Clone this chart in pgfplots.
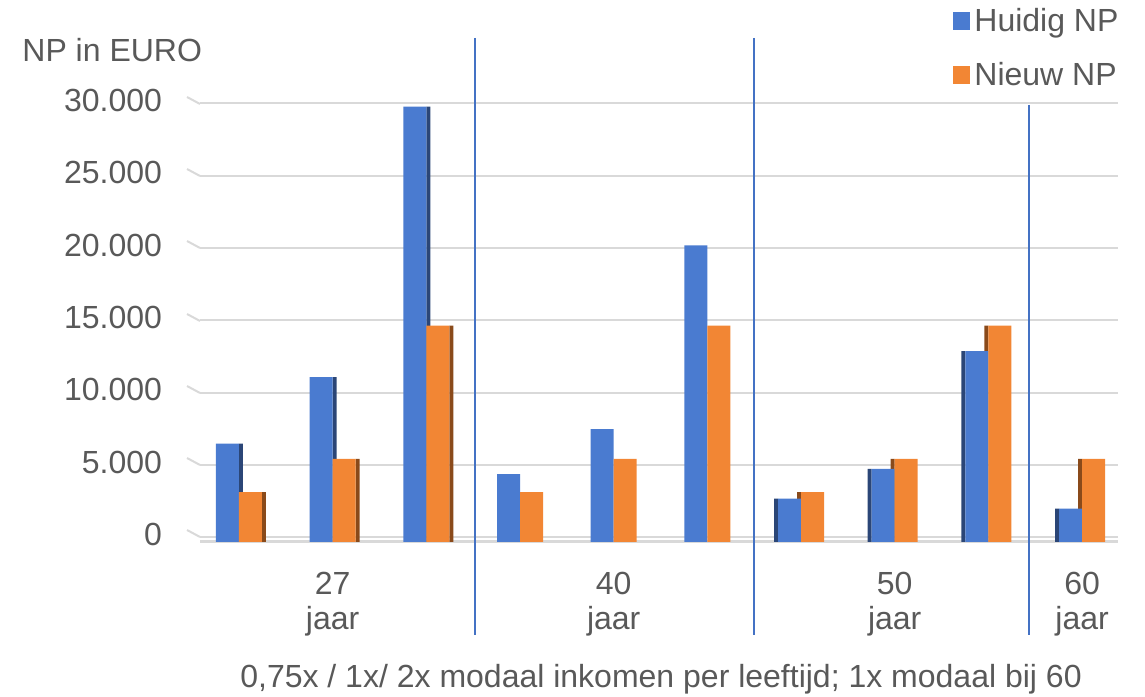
\documentclass[border=0pt]{standalone}
\usepackage{fontspec}
\setmainfont{Liberation Sans}
\usepackage{pgfplots}
\usepackage{pgfplotstable}
\pgfplotsset{compat=1.18}

\definecolor{hblue}{HTML}{4A7BD0}
\definecolor{hbluedk}{HTML}{2B4677}
\definecolor{norange}{HTML}{F28634}
\definecolor{norangedk}{HTML}{8A4A1A}
\definecolor{txt}{HTML}{595959}
\definecolor{gridc}{HTML}{D9D9D9}
\definecolor{sepc}{HTML}{4472C4}

% NP per geval: 0,75x / 1x / 2x modaal bij 27, 40, 50 jaar; 1x modaal bij 60
\pgfplotstableread{
idx huidig nieuw
0 6800 3450
1 11400 5750
2 30100 14950
3 4700 3450
4 7800 5750
5 20500 14950
6 3000 3450
7 5050 5750
8 13200 14950
9 2300 5750
}\npdata

\newcommand\chartfont{\fontsize{16bp}{17.5bp}\selectfont}

\begin{document}
\begin{tikzpicture}[x=0.5bp,y=0.5bp,font=\chartfont]
\useasboundingbox (0,0) rectangle (1145,696);
\begin{axis}[
  at={(100bp,77bp)}, anchor=south west,
  scale only axis, width=459bp, height=217bp,
  xmin=-0.416, xmax=9.384, ymin=0, ymax=30000,
  clip=false,
  ybar,
  axis x line*=bottom, axis y line*=left,
  y axis line style={draw=none},
  x axis line style={gridc, line width=1.5bp},
  major tick length=0pt,
  ymajorgrids,
  grid style={gridc, line width=1bp, yshift=2.3bp},
  ytick={0,5000,...,30000},
  scaled y ticks=false,
  /pgf/number format/assume math mode=true,
  yticklabel style={text=txt, font=\chartfont,
    /pgf/number format/1000 sep={.}, xshift=-15.5bp, yshift=3.8bp},
  xtick={1,4,7,9},
  xticklabels={{27\\jaar},{40\\jaar},{50\\jaar},{60\\jaar}},
  xticklabel style={align=center, text=txt, font=\chartfont, yshift=-11.5bp},
  legend style={at={(0.8135,1.25)}, anchor=north west, draw=none, fill=none,
    font=\chartfont, text=txt, row sep=10bp},
  legend cell align=left,
  legend image code/.code={\fill[#1] (0bp,-4.3bp) rectangle (8.6bp,4.3bp);},
]
% zijvlakken (3D-effect)
\addplot[fill=hbluedk, draw=none, bar width=0.0427, bar shift=0.0214,
  restrict x to domain=0:2, forget plot] table[x=idx,y=huidig]{\npdata};
\addplot[fill=norangedk, draw=none, bar width=0.0427, bar shift=0.2669,
  restrict x to domain=0:2, forget plot] table[x=idx,y=nieuw]{\npdata};
\addplot[fill=hbluedk, draw=none, bar width=0.0427, bar shift=-0.2669,
  restrict x to domain=6:9, forget plot] table[x=idx,y=huidig]{\npdata};
\addplot[fill=norangedk, draw=none, bar width=0.0427, bar shift=-0.0214,
  restrict x to domain=6:9, forget plot] table[x=idx,y=nieuw]{\npdata};
% voorvlakken
\addplot[fill=hblue, draw=none, bar width=0.2455, bar shift=-0.1228]
  table[x=idx,y=huidig]{\npdata};
\addlegendentry{Huidig NP}
\addplot[fill=norange, draw=none, bar width=0.2455, bar shift=0.1228]
  table[x=idx,y=nieuw]{\npdata};
\addlegendentry{Nieuw NP}
\end{axis}
% schuine aanloop van de rasterlijnen
\foreach \g in {104,176,248,321,393,465,537}
  \draw[gridc, line width=1bp] (187,703-\g) -- (200,696-\g);
% scheidingslijnen tussen leeftijden
\draw[sepc, line width=0.75bp] (475,658) -- (475,61);
\draw[sepc, line width=0.75bp] (754,658) -- (754,61);
\draw[sepc, line width=0.75bp] (1029,591) -- (1029,61);
\node[anchor=base west, text=txt, inner sep=0pt] at (22,634) {NP in EURO};
\node[anchor=base, text=txt, inner sep=0pt] at (661,9) {0,75x / 1x/ 2x modaal inkomen per leeftijd; 1x modaal bij 60};
\end{tikzpicture}
\end{document}
